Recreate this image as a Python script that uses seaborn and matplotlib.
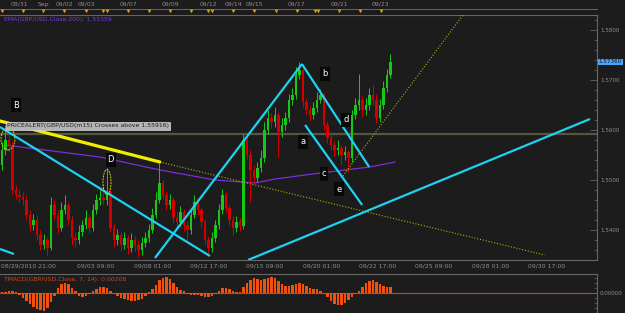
import numpy as np
import matplotlib
matplotlib.use("Agg")
import matplotlib.pyplot as plt
import seaborn as sns
from matplotlib.patches import Ellipse
from matplotlib.ticker import MultipleLocator, FixedLocator

# ---------------- data ----------------
first_open = 1.5530
closes = [
    1.5560, 1.5580, 1.5570, 1.5480, 1.5470, 1.5466, 1.5460, 1.5430, 1.5410, 1.5420,
    1.5390, 1.5370, 1.5380, 1.5364, 1.5450, 1.5430, 1.5404, 1.5440, 1.5450, 1.5420,
    1.5384, 1.5380, 1.5396, 1.5410, 1.5424, 1.5404, 1.5440, 1.5460, 1.5464, 1.5460,
    1.5476, 1.5404, 1.5380, 1.5390, 1.5370, 1.5384, 1.5364, 1.5380, 1.5370, 1.5360,
    1.5374, 1.5384, 1.5400, 1.5430, 1.5460, 1.5494, 1.5470, 1.5450, 1.5460, 1.5424,
    1.5416, 1.5436, 1.5410, 1.5400, 1.5430, 1.5456, 1.5440, 1.5416, 1.5380, 1.5364,
    1.5384, 1.5410, 1.5440, 1.5470, 1.5444, 1.5420, 1.5404, 1.5416, 1.5408, 1.5580,
    1.5550, 1.5520, 1.5504, 1.5524, 1.5544, 1.5600, 1.5624, 1.5616, 1.5630, 1.5596,
    1.5610, 1.5624, 1.5660, 1.5670, 1.5710, 1.5720, 1.5656, 1.5640, 1.5630, 1.5644,
    1.5660, 1.5670, 1.5610, 1.5584, 1.5570, 1.5560, 1.5564, 1.5550, 1.5556, 1.5544,
    1.5630, 1.5650, 1.5660, 1.5640, 1.5650, 1.5670, 1.5660, 1.5624, 1.5650, 1.5684,
    1.5710, 1.5736]
highs = [
    1.5575, 1.5610, 1.5592, 1.5578, 1.5490, 1.5482, 1.5476, 1.5470, 1.5440, 1.5432,
    1.5428, 1.5400, 1.5392, 1.5386, 1.5466, 1.5460, 1.5440, 1.5456, 1.5470, 1.5456,
    1.5428, 1.5396, 1.5410, 1.5420, 1.5440, 1.5432, 1.5452, 1.5472, 1.5480, 1.5490,
    1.5524, 1.5482, 1.5412, 1.5402, 1.5398, 1.5396, 1.5390, 1.5394, 1.5388, 1.5380,
    1.5386, 1.5396, 1.5412, 1.5444, 1.5476, 1.5534, 1.5500, 1.5478, 1.5472, 1.5466,
    1.5436, 1.5448, 1.5442, 1.5418, 1.5442, 1.5470, 1.5464, 1.5446, 1.5422, 1.5388,
    1.5396, 1.5420, 1.5452, 1.5482, 1.5476, 1.5450, 1.5428, 1.5428, 1.5424, 1.5592,
    1.5586, 1.5560, 1.5530, 1.5536, 1.5560, 1.5616, 1.5640, 1.5634, 1.5646, 1.5636,
    1.5624, 1.5636, 1.5672, 1.5684, 1.5726, 1.5736, 1.5724, 1.5664, 1.5648, 1.5656,
    1.5676, 1.5682, 1.5674, 1.5618, 1.5592, 1.5578, 1.5580, 1.5570, 1.5568, 1.5560,
    1.5640, 1.5664, 1.5712, 1.5668, 1.5664, 1.5684, 1.5690, 1.5672, 1.5662, 1.5698,
    1.5722, 1.5752]
lows = [
    1.5520, 1.5550, 1.5556, 1.5470, 1.5462, 1.5456, 1.5450, 1.5420, 1.5396, 1.5400,
    1.5380, 1.5360, 1.5362, 1.5350, 1.5360, 1.5420, 1.5394, 1.5398, 1.5432, 1.5410,
    1.5370, 1.5366, 1.5372, 1.5388, 1.5402, 1.5394, 1.5398, 1.5432, 1.5450, 1.5452,
    1.5450, 1.5396, 1.5366, 1.5370, 1.5358, 1.5362, 1.5352, 1.5356, 1.5358, 1.5346,
    1.5350, 1.5366, 1.5376, 1.5394, 1.5424, 1.5454, 1.5462, 1.5440, 1.5442, 1.5414,
    1.5404, 1.5408, 1.5398, 1.5380, 1.5392, 1.5424, 1.5430, 1.5406, 1.5370, 1.5350,
    1.5356, 1.5376, 1.5402, 1.5432, 1.5436, 1.5410, 1.5390, 1.5396, 1.5398, 1.5402,
    1.5540, 1.5456, 1.5494, 1.5496, 1.5516, 1.5536, 1.5592, 1.5604, 1.5606, 1.5546,
    1.5586, 1.5600, 1.5616, 1.5650, 1.5662, 1.5702, 1.5646, 1.5630, 1.5620, 1.5622,
    1.5636, 1.5654, 1.5600, 1.5574, 1.5560, 1.5548, 1.5550, 1.5530, 1.5540, 1.5516,
    1.5536, 1.5622, 1.5640, 1.5626, 1.5630, 1.5640, 1.5650, 1.5614, 1.5616, 1.5642,
    1.5676, 1.5704]
macd = [
    0.0004, 0.0004, 0.0007, 0.0007, 0.0004, -0.0007, -0.0018, -0.0028, -0.0039, -0.0049,
    -0.0056, -0.0060, -0.0063, -0.0053, -0.0032, -0.0011, 0.0018, 0.0032, 0.0035, 0.0032,
    0.0018, 0.0007, -0.0011, -0.0014, -0.0011, -0.0004, 0.0007, 0.0014, 0.0021, 0.0021,
    0.0018, 0.0007, -0.0004, -0.0011, -0.0018, -0.0021, -0.0025, -0.0028, -0.0028, -0.0025,
    -0.0021, -0.0011, 0.0004, 0.0014, 0.0028, 0.0046, 0.0053, 0.0056, 0.0049, 0.0035,
    0.0021, 0.0011, 0.0007, -0.0004, -0.0007, -0.0007, -0.0007, -0.0011, -0.0014, -0.0014,
    -0.0011, -0.0004, 0.0007, 0.0018, 0.0018, 0.0014, 0.0007, 0.0004, 0.0004, 0.0021,
    0.0035, 0.0046, 0.0053, 0.0049, 0.0046, 0.0049, 0.0053, 0.0056, 0.0053, 0.0042,
    0.0032, 0.0025, 0.0025, 0.0028, 0.0032, 0.0035, 0.0032, 0.0025, 0.0018, 0.0014,
    0.0014, 0.0007, -0.0004, -0.0014, -0.0028, -0.0039, -0.0042, -0.0042, -0.0035, -0.0025,
    -0.0014, -0.0004, 0.0007, 0.0021, 0.0035, 0.0042, 0.0046, 0.0039, 0.0032, 0.0025,
    0.0021, 0.0021]

ema_idx = [0.9, 28.0, 45.1, 60.9, 72.3, 78.0, 90.9, 105.1, 112.3]
ema_vals = [1.5570, 1.5546, 1.5520, 1.5500, 1.5494, 1.5502, 1.5514, 1.5526, 1.5536]

alert_price = 1.55916
last_price = 1.57360

cyan_lines = [((-0.57, 1.5606), (59.4, 1.5348)),
              ((43.7, 1.5344), (85.7, 1.5732)),
              ((85.7, 1.5732), (104.9, 1.5526)),
              ((86.6, 1.5610), (102.9, 1.5450)),
              ((-0.57, 1.5362), (3.4, 1.5352)),
              ((70.3, 1.5340), (168.0, 1.5622))]
yellow_line = ((-0.57, 1.5618), (45.1, 1.5536))
dotted_lines = [((45.1, 1.5536), (155.1, 1.5350)),
                ((97.4, 1.5508), (131.7, 1.5830))]
ellipses = [((1.7, 1.5582), 4.0, 0.0044), ((30.0, 1.5496), 2.3, 0.0050)]
wave_labels = ["B", "D", "a", "b", "c", "d", "e"]
wave_idx = [4.0, 31.1, 86.0, 92.3, 92.0, 98.3, 96.3]
wave_price = [1.5650, 1.5540, 1.5576, 1.5712, 1.5512, 1.5620, 1.5482]

price_ticks = [1.5400, 1.5500, 1.5600, 1.5700, 1.5800]
bottom_tick_idx = [5.4, 21.5, 37.6, 53.7, 69.8, 85.9, 102.0, 118.1, 134.2, 150.3]
bottom_labels = ["08/29/2010 21:00", "09/03 09:00", "09/08 01:00", "09/12 17:00",
                 "09/15 09:00", "09/20 01:00", "09/22 17:00", "09/25 09:00",
                 "09/28 01:00", "09/30 17:00"]
top_label_idx = [5.1, 11.7, 17.7, 24.0, 36.0, 48.0, 58.9, 66.0, 72.0, 84.0, 96.3, 108.0]
top_labels = ["08/31", "Sep", "09/02", "09/03", "09/07", "09/09", "09/12", "09/14",
              "09/15", "09/17", "09/21", "09/23"]
top_marker_idx = [0, 6, 11.7, 17.7, 24, 28.9, 30, 36, 42, 48, 54, 58.9, 60, 66, 72,
                  78.3, 84.3, 89.4, 90.3, 96.3, 102.3, 108.3]

# ---------------- style ----------------
BG = "#1c1c1c"
GRID = "#666666"
TXT = "#8e8e8e"
GREEN = "#17c917"
RED = "#d40000"
CYAN = "#1fd2f2"
YELLOW = "#f2ee00"
DOT = "#b4ac10"
PURPLE = "#7a2fd8"
ORANGE = "#f2500c"
FS = 4.4
FSR = 4.1

sns.set_theme(style="dark", rc={"axes.facecolor": BG, "figure.facecolor": BG,
                                "axes.edgecolor": GRID, "text.color": TXT,
                                "xtick.color": TXT, "ytick.color": TXT})
plt.rcParams["font.family"] = ["DejaVu Sans"]

W, H = 625, 313
def rect(x0, y0, x1, y1):
    return [x0 / W, 1 - y1 / H, (x1 - x0) / W, (y1 - y0) / H]

fig = plt.figure(figsize=(6.25, 3.13), dpi=100, facecolor=BG)
ax = fig.add_axes(rect(0, 15, 597, 260))
ax_top = fig.add_axes(rect(0, 0, 597, 15))
ax_ind = fig.add_axes(rect(0, 274, 597, 313))

n = len(closes)
idx = np.arange(n)
c = np.array(closes)
o = np.array([first_open] + closes[:-1])
hi = np.array(highs)
lo = np.array(lows)
up = c >= o
cols = np.where(up, GREEN, RED)
XL = (-0.571, 170.0)

# price panel
ax.axhline(alert_price, color="#56563e", lw=1.6, zorder=1)
sns.lineplot(x=ema_idx, y=ema_vals, ax=ax, color=PURPLE, lw=0.9, zorder=2)
ax.vlines(idx, lo, hi, colors=cols, lw=0.7, zorder=3)
body = np.maximum(np.abs(c - o), 0.00025)
ax.bar(idx, body, bottom=np.minimum(o, c), width=0.62, color=cols, linewidth=0, zorder=4)

for (p0, p1) in cyan_lines:
    ax.plot([p0[0], p1[0]], [p0[1], p1[1]], color=CYAN, lw=1.6, zorder=6, solid_capstyle="butt")
ax.plot([yellow_line[0][0], yellow_line[1][0]], [yellow_line[0][1], yellow_line[1][1]],
        color=YELLOW, lw=2.3, zorder=6)
for (p0, p1) in dotted_lines:
    ax.plot([p0[0], p1[0]], [p0[1], p1[1]], color=DOT, lw=0.8, ls=(0, (1, 1.6)), zorder=5)
for (cxy, w, h) in ellipses:
    ax.add_patch(Ellipse(cxy, w, h, fill=False, ec="#d8d000", lw=0.7, ls=(0, (2, 1)), zorder=7))
for t, xi, pi in zip(wave_labels, wave_idx, wave_price):
    ax.text(xi, pi, t, color="white", fontsize=6, ha="center", va="center", zorder=9,
            bbox=dict(boxstyle="square,pad=0.25", fc="#080808", ec="none"))

ax.text(1.4, 1.5608, "PRICEALERT(GBP/USD(m15) Crosses above 1.55916)", fontsize=FS,
        color="#202020", ha="left", va="center", zorder=10,
        bbox=dict(boxstyle="square,pad=0.2", fc="#b4b4b4", ec="#dcdcdc", lw=0.5))
ax.text(4 / 597, 1 - 4 / 245, "EMA(GBP/USD.Close,200): 1.55359", transform=ax.transAxes,
        fontsize=FS, color="#8034e6", ha="left", va="center")

ax.set_xlim(*XL)
ax.set_ylim(1.5340, 1.5830)
ax.set_xlabel("")
ax.set_ylabel("")
ax.yaxis.tick_right()
ax.set_yticks(price_ticks)
ax.set_yticklabels([f"{p:.4f}" for p in price_ticks])
ax.yaxis.set_minor_locator(MultipleLocator(0.002))
ax.tick_params(axis="y", which="major", direction="in", length=5, width=0.6, pad=2.5,
               labelsize=FSR, colors=GRID, labelcolor=TXT, right=True, left=False)
ax.tick_params(axis="y", which="minor", direction="in", length=2.5, width=0.5,
               colors=GRID, right=True, left=False)
ax.set_xticks(bottom_tick_idx)
ax.set_xticklabels([""] + bottom_labels[1:])
for lbl in ax.get_xticklabels():
    lbl.set_ha("left")
# first label does not fit at its tick, so it sits flush with the left edge
ax.annotate(bottom_labels[0], xy=(0, 0), xycoords="axes fraction", xytext=(0.5, -2.5),
            textcoords="offset points", ha="left", va="top", fontsize=FS, color=TXT,
            annotation_clip=False)
ax.xaxis.set_minor_locator(MultipleLocator(2))
ax.tick_params(axis="x", which="major", direction="in", length=5, width=0.6, pad=2.5,
               labelsize=FS, colors=GRID, labelcolor=TXT)
ax.tick_params(axis="x", which="minor", direction="in", length=2.5, width=0.5, colors=GRID)
ax.spines["left"].set_visible(False)
for s in ["right", "bottom", "top"]:
    ax.spines[s].set_color(GRID)
    ax.spines[s].set_linewidth(0.8)
ax.grid(False)

ax.annotate(f"{last_price:.5f}", xy=(1.0, last_price), xycoords=ax.get_yaxis_transform(),
            xytext=(1.2, 0), textcoords="offset points", ha="left", va="center",
            fontsize=FSR, color="#06162c", annotation_clip=False,
            bbox=dict(boxstyle="square,pad=0.15", fc="#4aa6f6", ec="none"))

# top date strip
ax_top.set_facecolor(BG)
ax_top.set_xlim(*XL)
ax_top.set_ylim(0, 1)
for s in ["left", "right", "top"]:
    ax_top.spines[s].set_visible(False)
ax_top.spines["bottom"].set_position(("axes", 0.4))
ax_top.spines["bottom"].set_color(GRID)
ax_top.spines["bottom"].set_linewidth(0.7)
ax_top.set_yticks([])
ax_top.xaxis.set_major_locator(FixedLocator(top_marker_idx))
ax_top.xaxis.set_minor_locator(MultipleLocator(2))
ax_top.tick_params(axis="x", which="both", direction="out", length=2, width=0.5,
                   colors=GRID, labelbottom=False)
ax_top.scatter(top_marker_idx, [0.26] * len(top_marker_idx), marker="v", s=7,
               color="#d9a21a", linewidths=0, zorder=5, clip_on=False)
for xi, t in zip(top_label_idx, top_labels):
    ax_top.text(xi, 0.72, t, ha="center", va="center", fontsize=FS, color=TXT)
ax_top.grid(False)

# indicator panel
sns.barplot(x=idx, y=macd, native_scale=True, color=ORANGE, saturation=1, width=0.62,
            linewidth=0, ax=ax_ind, zorder=3)
ax_ind.axhline(0, color="#d2440c", lw=0.8, zorder=2)
ax_ind.set_xlim(*XL)
ax_ind.set_ylim(-0.0070, 0.00665)
ax_ind.set_xlabel("")
ax_ind.set_ylabel("")
ax_ind.set_xticks([])
ax_ind.yaxis.tick_right()
ax_ind.set_yticks([0.0])
ax_ind.set_yticklabels(["0.00000"])
ax_ind.yaxis.set_minor_locator(MultipleLocator(0.0018))
ax_ind.tick_params(axis="y", which="major", direction="in", length=5, width=0.6, pad=2,
                   labelsize=FSR, colors=GRID, labelcolor=TXT)
ax_ind.tick_params(axis="y", which="minor", direction="in", length=2.5, width=0.5, colors=GRID)
ax_ind.spines["left"].set_visible(False)
ax_ind.spines["bottom"].set_visible(False)
for s in ["right", "top"]:
    ax_ind.spines[s].set_color(GRID)
    ax_ind.spines[s].set_linewidth(0.8)
ax_ind.text(4 / 597, 1 - 6 / 39, "TMACD(GBP/USD.Close, 7, 14): 0.00208",
            transform=ax_ind.transAxes, fontsize=FS, color="#d8481a", ha="left", va="center")
ax_ind.grid(False)

fig.savefig("out.png", dpi=100, facecolor=BG)
